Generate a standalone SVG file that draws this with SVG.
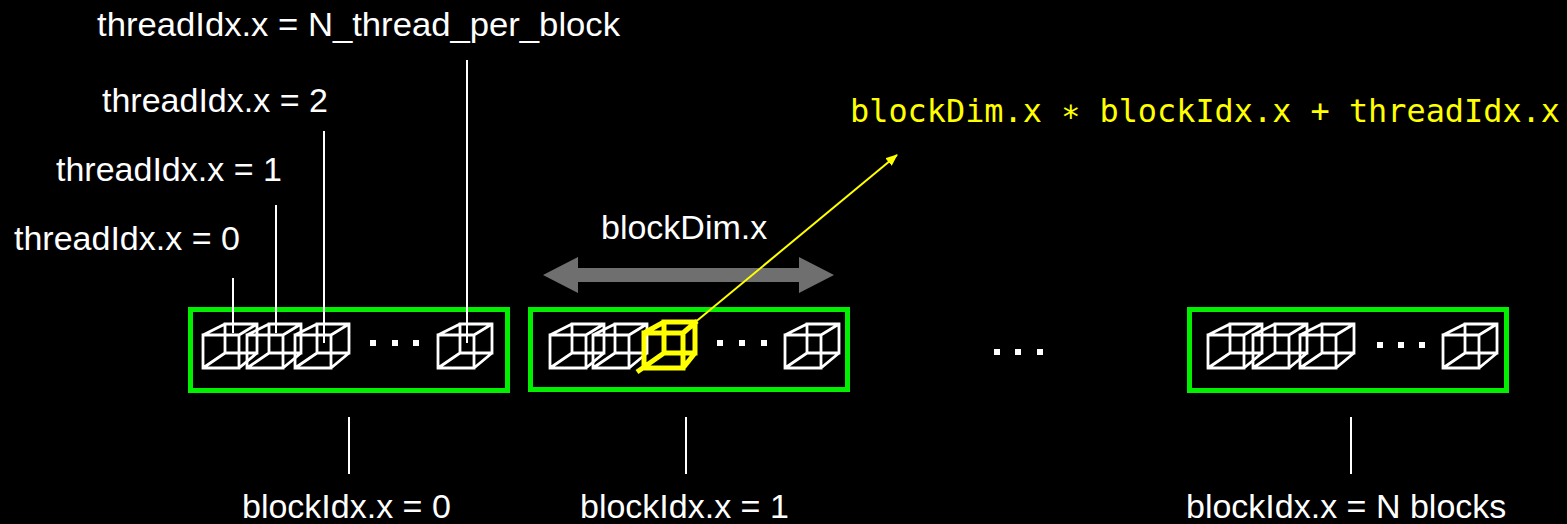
<svg xmlns="http://www.w3.org/2000/svg" xmlns:xlink="http://www.w3.org/1999/xlink" width="1567" height="524" viewBox="0 0 1567 524">
  <style>
    .label { font-family: "Liberation Sans", Arial, Helvetica, sans-serif; font-size: 34px; fill: #ffffff; }
    .formula { font-family: "DejaVu Sans Mono", "Liberation Mono", monospace; font-size: 32px; fill: #ffff00; }
    .block { fill: none; stroke: #00f000; stroke-width: 5; }
    .cube { fill: none; stroke: #ffffff; stroke-width: 2.8; stroke-linejoin: miter; }
    .cube-hi { fill: none; stroke: #ffff00; stroke-width: 5; }
    .tick { stroke: #ffffff; stroke-width: 2; fill: none; }
    .dot { fill: #ffffff; }
  </style>
  <defs>
    <!-- wireframe thread cube, origin at the front face's top-left corner -->
    <path id="cube" d="M0,0 H36 V33 H0 Z M22,-11 H54 V18 H22 Z M0,0 L22,-11 M36,0 L54,-11 M36,33 L54,18 M0,33 L22,18"/>
    <marker id="yhead" viewBox="0 0 12 10" refX="11" refY="5" markerWidth="12" markerHeight="10" markerUnits="userSpaceOnUse" orient="auto">
      <path d="M0,0 L12,5 L0,10 Z" fill="#ffff00"/>
    </marker>
  </defs>

  <rect width="1567" height="524" fill="#000000"/>

  <!-- thread index labels -->
  <g id="label-thread-n"><text class="label" x="97" y="36" textLength="523" lengthAdjust="spacingAndGlyphs">threadIdx.x = N_thread_per_block</text></g>
  <g id="label-thread-2"><text class="label" x="102" y="112">threadIdx.x = 2</text></g>
  <g id="label-thread-1"><text class="label" x="56" y="181">threadIdx.x = 1</text></g>
  <g id="label-thread-0"><text class="label" x="14" y="250">threadIdx.x = 0</text></g>

  <!-- global index formula -->
  <g id="formula"><text class="formula" x="850" y="122" textLength="710" lengthAdjust="spacingAndGlyphs">blockDim.x ∗ blockIdx.x + threadIdx.x</text></g>

  <!-- block width -->
  <g id="block-dim">
    <text class="label" x="601" y="239">blockDim.x</text>
    <polygon points="543,275 578,257 578,268 799,268 799,257 834,275 799,293 799,282 578,282 578,293" fill="#6f6f6f"/>
  </g>

  <!-- block 0 -->
  <g id="block-0">
    <rect class="block" x="190.5" y="309.5" width="317" height="81"/>
    <use href="#cube" class="cube" x="203" y="335"/>
    <use href="#cube" class="cube" x="247" y="335"/>
    <use href="#cube" class="cube" x="295" y="335"/>
    <use href="#cube" class="cube" x="438" y="335"/>
    <rect class="dot" x="370" y="340" width="6" height="6"/>
    <rect class="dot" x="392" y="340" width="6" height="6"/>
    <rect class="dot" x="413" y="340" width="6" height="6"/>
  </g>

  <!-- block 1 -->
  <g id="block-1">
    <rect class="block" x="530.5" y="309.5" width="317" height="80"/>
    <use href="#cube" class="cube" x="550" y="335"/>
    <use href="#cube" class="cube" x="593" y="335"/>
    <use href="#cube" class="cube" x="785" y="335"/>
    <rect class="dot" x="717" y="340" width="6" height="6"/>
    <rect class="dot" x="739" y="340" width="6" height="6"/>
    <rect class="dot" x="761" y="340" width="6" height="6"/>
    <!-- highlighted thread -->
    <path class="cube-hi" d="M644,333 H683 V368 H644 Z M664,322 H695 V353 H664 Z M644,333 L664,322 M683,333 L697,321 M683,368 L695,353 M637,372 L664,353"/>
  </g>

  <!-- gap between blocks -->
  <g id="gap-dots">
    <rect class="dot" x="994" y="349" width="6" height="6"/>
    <rect class="dot" x="1015" y="349" width="6" height="6"/>
    <rect class="dot" x="1037" y="349" width="6" height="6"/>
  </g>

  <!-- last block -->
  <g id="block-n">
    <rect class="block" x="1189.5" y="309.5" width="317" height="81"/>
    <use href="#cube" class="cube" x="1208" y="335"/>
    <use href="#cube" class="cube" x="1253" y="335"/>
    <use href="#cube" class="cube" x="1300" y="335"/>
    <use href="#cube" class="cube" x="1443" y="335"/>
    <rect class="dot" x="1377" y="342" width="6" height="6"/>
    <rect class="dot" x="1398" y="342" width="6" height="6"/>
    <rect class="dot" x="1419" y="342" width="6" height="6"/>
  </g>

  <!-- block index labels -->
  <g id="label-block-0"><text class="label" x="242" y="518">blockIdx.x = 0</text></g>
  <g id="label-block-1"><text class="label" x="580" y="518">blockIdx.x = 1</text></g>
  <g id="label-block-n"><text class="label" x="1186" y="518">blockIdx.x = N blocks</text></g>

  <!-- connectors -->
  <g id="connectors">
    <line class="tick" x1="233" y1="278" x2="233" y2="333"/>
    <line class="tick" x1="276" y1="205" x2="276" y2="333"/>
    <line class="tick" x1="324" y1="131" x2="324" y2="343"/>
    <line class="tick" x1="467" y1="60" x2="467" y2="343"/>
    <line class="tick" x1="349" y1="417" x2="349" y2="474"/>
    <line class="tick" x1="686" y1="417" x2="686" y2="474"/>
    <line class="tick" x1="1351" y1="417" x2="1351" y2="474"/>
    <line x1="693" y1="324" x2="897" y2="155" stroke="#ffff00" stroke-width="2" marker-end="url(#yhead)"/>
  </g>
</svg>
